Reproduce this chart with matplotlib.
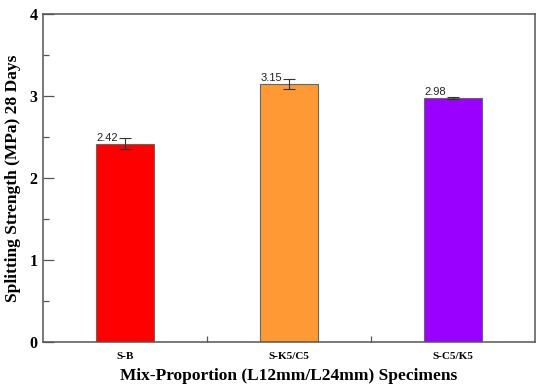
import numpy as np
import matplotlib.pyplot as plt
from matplotlib.ticker import MultipleLocator, FixedLocator

labels = ["S-B", "S-K5/C5", "S-C5/K5"]
values = [2.42, 3.15, 2.98]
errors = [0.07, 0.06, 0.012]
colors = ["#ff0000", "#ff9933", "#9900ff"]

plt.rcParams["font.family"] = ["Liberation Serif", "DejaVu Serif"]

fig = plt.figure(figsize=(5.5, 3.89), dpi=100)
ax = fig.add_axes([0.078, 0.121, 0.895, 0.843])

x = np.arange(len(labels))
ax.bar(x, values, width=0.35, color=colors, edgecolor="#666666", linewidth=0.8,
       yerr=errors, capsize=4, error_kw=dict(ecolor="#333333", elinewidth=0.8, capthick=0.8))

for xi, v in zip(x, values):
    ax.text(xi - 0.175, v + 0.01, f"{v:.2f}", ha="left", va="bottom",
            fontsize=8, family=["Liberation Sans", "DejaVu Sans"], color="#222222")

ax.set_xlim(-0.5, 2.5)
ax.set_ylim(0, 4)
ax.set_xticks(x)
ax.set_xticklabels(labels, fontsize=8, fontweight="bold")
ax.xaxis.set_minor_locator(FixedLocator([0.5, 1.5]))
ax.tick_params(axis="x", which="major", length=0, pad=7)
ax.tick_params(axis="x", which="minor", direction="in", length=4, width=0.9, color="#555555")

ax.yaxis.set_major_locator(MultipleLocator(1))
ax.yaxis.set_minor_locator(MultipleLocator(0.5))
ax.tick_params(axis="y", which="major", direction="in", length=8, width=0.9,
               color="#555555", labelsize=11.5, pad=4)
ax.tick_params(axis="y", which="minor", direction="in", length=4, width=0.9, color="#555555")
for lab in ax.get_yticklabels():
    lab.set_fontweight("bold")

for s in ax.spines.values():
    s.set_color("#555555")
    s.set_linewidth(1.1)

ax.set_xlabel("Mix-Proportion (L12mm/L24mm) Specimens", fontsize=12.5, fontweight="bold", labelpad=5)
ax.set_ylabel("Splitting Strength (MPa) 28 Days", fontsize=12.5, fontweight="bold", labelpad=6)

fig.savefig("out.png", dpi=100)
